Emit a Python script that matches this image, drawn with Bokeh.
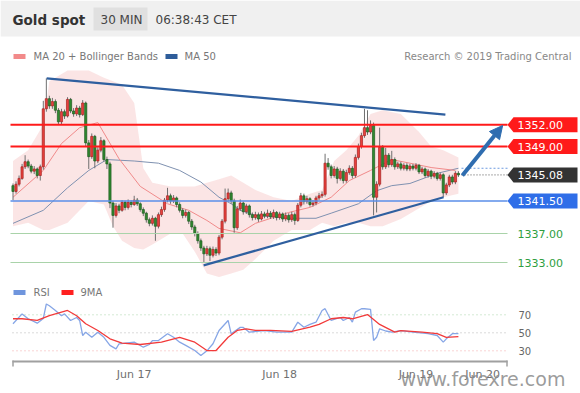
from bokeh.plotting import figure
from bokeh.models import Range1d, Label, Arrow, NormalHead, BoxAnnotation, ColumnDataSource
from bokeh.embed import file_html
from bokeh.resources import INLINE
from bokeh.core.properties import value

# ---------------- data (30-min candles, Gold spot) ----------------
first_open = 1343.6
close = [1342.8,1343.8,1344.6,1346.2,1346.9,1346.3,1345.6,1345.9,1345.0,1346.2,
         1354.2,1355.6,1354.6,1355.2,1354.0,1352.4,1353.8,1353.2,1355.5,1353.9,
         1353.5,1354.3,1353.4,1355.0,1349.5,1347.6,1350.4,1347.0,1348.5,1349.8,
         1347.2,1346.6,1341.2,1339.5,1340.8,1340.2,1341.3,1340.6,1341.3,1341.0,
         1341.6,1341.1,1340.3,1339.8,1338.9,1338.4,1339.1,1338.0,1339.6,1340.3,
         1341.6,1342.2,1341.5,1341.9,1341.0,1340.2,1339.5,1339.9,1338.7,1337.9,
         1337.0,1336.0,1335.0,1334.2,1334.9,1334.0,1334.8,1334.3,1336.5,1338.7,
         1341.8,1342.6,1341.5,1337.8,1340.4,1341.2,1340.0,1340.8,1339.6,1339.2,
         1339.6,1339.0,1339.7,1339.4,1339.8,1339.3,1339.9,1339.2,1339.7,1339.0,
         1339.5,1338.9,1339.6,1338.8,1340.9,1342.2,1341.4,1341.8,1341.0,1341.2,
         1341.9,1342.2,1342.4,1346.7,1346.2,1345.0,1345.9,1344.6,1345.6,1344.3,
         1345.4,1346.0,1345.0,1347.5,1349.0,1350.5,1351.6,1351.0,1351.9,1342.0,
         1343.8,1348.9,1346.2,1347.8,1346.5,1347.2,1346.2,1346.6,1346.0,1346.4,
         1345.9,1346.3,1346.0,1346.4,1345.5,1345.9,1345.0,1345.6,1344.9,1345.3,
         1344.6,1345.1,1342.6,1343.7,1344.8,1344.1,1345.3,1345.08]
high = [1343.9,1344.2,1345.0,1346.6,1347.8,1347.2,1346.6,1346.3,1346.1,1346.5,
        1355.3,1358.4,1356.0,1355.7,1355.5,1354.3,1354.2,1354.1,1355.8,1355.7,
        1354.3,1354.7,1354.6,1355.4,1355.2,1349.9,1350.8,1350.6,1348.9,1350.3,
        1350.0,1347.6,1346.9,1341.5,1341.2,1341.1,1341.6,1341.5,1341.7,1341.6,
        1342.2,1341.9,1341.3,1340.6,1340.0,1339.2,1339.5,1339.3,1339.9,1340.7,
        1341.9,1343.3,1342.5,1342.3,1342.1,1341.3,1340.5,1340.3,1340.1,1339.0,
        1338.2,1337.3,1336.3,1335.3,1335.3,1335.2,1335.2,1335.1,1336.8,1339.0,
        1343.2,1343.2,1342.9,1341.8,1340.8,1341.7,1341.4,1341.1,1341.0,1339.9,
        1340.0,1339.9,1340.1,1340.0,1340.3,1340.1,1340.3,1340.1,1340.0,1339.9,
        1339.9,1339.8,1340.0,1339.9,1341.2,1342.6,1342.5,1342.2,1342.0,1341.6,
        1342.2,1342.6,1342.8,1348.0,1347.4,1346.5,1346.3,1346.2,1346.0,1345.9,
        1345.8,1346.4,1346.3,1347.9,1349.4,1350.9,1354.2,1354.0,1352.6,1352.3,
        1344.2,1351.6,1349.2,1348.8,1348.1,1348.4,1347.5,1346.9,1346.9,1346.7,
        1346.7,1346.6,1346.6,1346.7,1346.6,1346.2,1346.1,1345.9,1345.8,1345.6,
        1345.5,1345.4,1345.3,1344.0,1345.1,1345.1,1345.6,1345.6]
low = [1341.6,1342.5,1343.5,1344.4,1345.9,1346.0,1345.3,1345.2,1344.6,1344.3,
       1345.8,1353.8,1354.2,1354.2,1353.6,1352.0,1352.1,1352.8,1353.0,1353.6,
       1353.1,1353.2,1353.0,1353.2,1349.0,1345.9,1347.3,1346.0,1346.7,1348.2,
       1346.9,1345.9,1340.5,1337.8,1339.2,1339.8,1340.0,1340.2,1340.3,1340.6,
       1340.8,1340.8,1340.0,1339.4,1338.5,1338.0,1338.1,1336.0,1337.7,1339.3,
       1340.0,1341.3,1341.1,1341.2,1340.6,1339.9,1339.1,1339.2,1338.3,1337.5,
       1336.6,1335.6,1334.6,1333.0,1333.9,1333.2,1333.7,1333.9,1334.0,1336.2,
       1338.4,1341.4,1341.1,1337.1,1337.5,1340.1,1339.6,1339.7,1339.2,1338.8,
       1338.9,1338.6,1338.8,1339.1,1339.1,1339.0,1339.0,1338.8,1338.9,1338.6,
       1338.7,1338.5,1338.6,1338.2,1338.6,1340.6,1341.0,1341.1,1340.7,1340.7,
       1340.9,1341.6,1341.9,1342.1,1345.8,1344.6,1344.7,1343.9,1344.3,1343.9,
       1344.0,1345.1,1344.6,1344.7,1347.2,1348.7,1350.2,1350.6,1350.7,1339.5,
       1339.9,1343.5,1345.8,1345.9,1346.1,1346.2,1345.8,1345.9,1345.7,1345.7,
       1345.6,1345.6,1345.7,1345.7,1345.2,1345.2,1344.7,1344.7,1344.5,1344.6,
       1344.3,1344.3,1342.0,1342.3,1343.4,1343.8,1343.8,1344.8]

ma20_idx = [0,10,16,22,28,35,42,51,58,64,68,75,80,91,98,105,111,118,125,131,138,146]
ma20 = [1342.0,1345.7,1349.4,1351.6,1352.3,1347.3,1343.5,1341.1,1340.2,1338.8,1337.7,
        1337.1,1338.4,1339.9,1340.6,1342.0,1344.3,1345.7,1347.2,1346.7,1346.1,1345.7]

band_idx = [0,5,10,12,18,25,30,33,36,40,43,46,52,56,60,64,68,72,76,80,86,92,98,102,
            106,110,114,118,122,128,134,138,142,147]
band_up = [1347.0,1348.5,1352.0,1358.0,1359.5,1359.5,1358.5,1358.0,1357.5,1355.0,
           1346.0,1344.0,1343.5,1343.5,1343.5,1344.0,1344.5,1345.0,1344.0,1343.0,
           1342.0,1341.5,1342.5,1343.0,1347.0,1348.5,1350.5,1353.5,1354.0,1353.5,
           1351.0,1349.0,1348.5,1347.5]
band_lo = [1338.0,1338.5,1337.5,1337.5,1338.5,1341.5,1341.0,1338.0,1336.0,1335.0,
           1334.8,1335.5,1337.0,1337.0,1334.5,1331.5,1331.0,1331.5,1332.0,1333.5,
           1336.0,1337.5,1337.5,1338.5,1338.0,1338.5,1338.5,1338.0,1338.0,1339.0,
           1340.5,1341.5,1342.0,1342.5]

ma50_idx = [0,10,18,25,31,40,48,55,62,68,72,75,80,91,100,105,114,120,125,131,140,147]
ma50 = [1338.4,1340.2,1343.3,1345.7,1347.2,1347.0,1346.7,1345.7,1344.1,1342.0,1341.1,
        1340.2,1339.5,1339.1,1339.1,1339.8,1341.1,1342.9,1343.6,1343.9,1345.3,1346.0]

rsi_idx = [0,3,5,8,10,11,12,14,16,17,19,21,22,23,24,26,28,30,32,34,35,40,41,43,45,46,
           48,51,53,55,57,60,62,64,66,68,71,72,75,76,78,83,87,92,94,96,98,100,102,103,
           105,108,109,111,112,113,115,116,118,119,120,121,123,125,128,132,137,140,
           142,143,145,147]
rsi = [60,71,65.6,60.7,66,82,80,74.8,69,71,63.7,67,63.7,47,50.7,45,50.7,45,36,32.2,
       37.8,39.6,37.8,34,37,41.4,41.4,49,45,39.6,36,30.3,24.8,30,37.8,52.6,63.7,48.9,
       56,56,50.7,52.4,50.7,50.7,61.8,56.2,59.3,61.8,74.8,76.8,63.7,67,63.7,67,61.8,
       73,76.7,76.7,76,41.4,45,54.4,52,50.7,52.4,50.7,49,47,39.6,43.3,49,49]
ma9_idx = [0,3,8,12,18,21,24,28,32,36,42,49,55,60,64,67,71,74,77,80,85,92,98,101,
           105,109,112,117,121,126,128,135,140,143,147]
ma9 = [65.6,65.6,63.7,69,74.8,69,60,52.6,43.3,38.5,37,39.6,45,39.6,30.3,30.3,45,52.6,
       54.4,52.6,52.6,51.5,56.2,59.3,65.6,67,65.6,70.3,59.3,50.7,52.4,50.7,49,45,45.7]

resist_x = [11.1, 142.7]
resist_y = [1358.4, 1353.4]
support_x = [62.9, 142.1]
support_y = [1332.6, 1342.0]
arrow_x = [148.3, 161.6]
arrow_y = [1345.0, 1351.9]

res_levels = [1352.0, 1349.0]
sup_tag_level = 1341.5
sup_levels = [1337.0, 1333.0]
last_price = 1345.08
rsi_levels = [70, 50, 30]
rsi_labels = ["70", "50", "30"]
date_ticks = [40, 88, 133, 155]
date_labels = ["Jun 17", "Jun 18", "Jun 19", "Jun 20"]

# ---------------- layout helpers (pixel -> data) ----------------
X0, DX = 12.5, 3.03
def px(rx):
    return (rx - X0) / DX
def py(ry):
    return 1349 - (ry - 146) / 7.25
def pr(ry):
    return 50 + (332.3 - ry) / 0.9

FONT = "DejaVu Sans"
W, H = 580, 393
p = figure(width=W, height=H, output_backend="svg", toolbar_location=None,
           x_range=Range1d(px(0), px(W)), y_range=Range1d(py(H), py(0)),
           x_axis_location=None, y_axis_location=None, min_border=0,
           outline_line_color=None)
p.extra_y_ranges = {"rsi": Range1d(pr(H), pr(0))}
p.grid.visible = False
p.background_fill_color = "white"
p.border_fill_color = "white"

# header band
p.add_layout(BoxAnnotation(left=px(0), right=px(W), top=py(0), bottom=py(36),
                           fill_color="#f0f0f0", fill_alpha=1, line_color=None, level="underlay"))
p.add_layout(BoxAnnotation(left=px(93), right=px(147), top=py(7), bottom=py(30),
                           fill_color="#e0e0e0", fill_alpha=1, line_color=None, level="underlay"))

def lab(x, y, text, size, color, bold=False, align="left"):
    p.add_layout(Label(x=px(x), y=py(y), text=text, text_font=FONT, text_font_size=size,
                       text_color=color, text_baseline="middle", text_align=align,
                       text_font_style="bold" if bold else "normal"))

lab(12, 19, "Gold spot", "13.5px", "#333333", bold=True)
lab(100, 19, "30 MIN", "12px", "#444444")
lab(155, 19, "06:38:43 CET", "12px", "#444444")
lab(33, 56, "MA 20 + Bollinger Bands", "10px", "#777777")
lab(184, 56, "MA 50", "10px", "#777777")
lab(571, 56, "Research \u00a9 2019 Trading Central", "10px", "#888888", align="right")
lab(33, 292, "RSI", "10px", "#777777")
lab(80, 292, "9MA", "10px", "#777777")

# legend swatches
p.quad(left=[px(13), px(165)], right=[px(25), px(177)], top=[py(53.5), py(53.5)],
       bottom=[py(58.5), py(58.5)], fill_color=["#f28a8a", "#2e5d9a"], line_color=None)
p.quad(left=[px(13), px(61)], right=[px(25), px(73)], top=[py(289.5), py(289.5)],
       bottom=[py(294.5), py(294.5)], fill_color=["#6f95dd", "#ff2020"], line_color=None)

# Bollinger band + MAs
p.varea(x=band_idx, y1=band_lo, y2=band_up, fill_color="#f7cccc", fill_alpha=0.5)
p.line(ma50_idx, ma50, line_color="#7f91b0", line_width=1)
p.line(ma20_idx, ma20, line_color="#f08a8a", line_width=1)

# candles
opens = [first_open] + close[:-1]
idx = list(range(len(close)))
bull = [c >= o for o, c in zip(opens, close)]
src = ColumnDataSource(dict(
    x=idx, h=high, l=low,
    top=[max(o, c) for o, c in zip(opens, close)],
    bot=[min(o, c) for o, c in zip(opens, close)],
    fill=["#e8413c" if b else "#2f8a2f" for b in bull],
    edge=["#a52222" if b else "#1f5a1f" for b in bull]))
p.segment(x0="x", y0="h", x1="x", y1="l", line_color="#6f6f6f", line_width=1, source=src)
p.vbar(x="x", width=0.72, top="top", bottom="bot", fill_color="fill", line_color="edge",
       line_width=0.7, source=src)

# horizontal levels
for lv in res_levels:
    p.segment(x0=[px(10)], y0=[lv], x1=[px(507)], y1=[lv], line_color="#ff1a1a", line_width=2)
p.segment(x0=[px(10)], y0=[sup_tag_level], x1=[px(507)], y1=[sup_tag_level],
          line_color="#5a8ee8", line_width=1.5)
for lv in sup_levels:
    p.segment(x0=[px(10)], y0=[lv], x1=[px(507)], y1=[lv], line_color="#a9d3a9", line_width=1)
p.segment(x0=[px(461)], y0=[last_price], x1=[px(507)], y1=[last_price],
          line_color="#555555", line_width=1, line_dash="1 2")
p.segment(x0=[px(461)], y0=[ma50[-1]], x1=[px(507)], y1=[ma50[-1]],
          line_color="#6d9be0", line_width=1, line_dash="2 2")

# trend lines and arrow
p.line(resist_x, resist_y, line_color="#2f5f9f", line_width=2.2)
p.line(support_x, support_y, line_color="#2f5f9f", line_width=2.2)
p.add_layout(Arrow(end=NormalHead(size=13, fill_color="#2f6db0", line_color="#2f6db0"),
                   x_start=arrow_x[0], y_start=arrow_y[0], x_end=arrow_x[1], y_end=arrow_y[1],
                   line_color="#2f6db0", line_width=4))

# price tags
hh = 7.5 / 7.25
tags = [(res_levels[0], "#ff1a1a"), (res_levels[1], "#ff1a1a"),
        (last_price, "#333333"), (sup_tag_level, "#2f6ee8")]
p.patches(xs=[[px(507), px(513), px(577), px(577), px(513)] for _ in tags],
          ys=[[v, v + hh, v + hh, v - hh, v - hh] for v, _ in tags],
          fill_color=[c for _, c in tags], line_color=None)
p.text(x=[px(517)] * len(tags), y=[v for v, _ in tags], text=["%.2f" % v for v, _ in tags],
       text_font=value(FONT), text_font_size="11px", text_color="white", text_baseline="middle")
p.text(x=[px(517)] * len(sup_levels), y=sup_levels, text=["%.2f" % v for v in sup_levels],
       text_font=value(FONT), text_font_size="11px", text_color="#2e9e3e", text_baseline="middle")

# RSI panel
for lv, col in zip(rsi_levels, ["#a8d5a8", "#b5b5b5", "#f2a8a8"]):
    p.segment(x0=[px(12)], y0=[lv], x1=[px(507)], y1=[lv], line_color=col, line_width=1,
              line_dash="1 3", y_range_name="rsi")
p.line(rsi_idx, rsi, line_color="#86a6e6", line_width=1.3, y_range_name="rsi")
p.line(ma9_idx, ma9, line_color="#f23a3a", line_width=1.3, y_range_name="rsi")
p.text(x=[px(518)] * 3, y=rsi_levels, text=rsi_labels, y_range_name="rsi",
       text_font=value(FONT), text_font_size="10px", text_color="#666666", text_baseline="middle")

# time axis (drawn inside the canvas)
p.segment(x0=[px(12)], y0=[py(361)], x1=[px(507)], y1=[py(361)], line_color="#a0a0a0", line_width=2)
p.segment(x0=[px(12.5), px(506.5)], y0=[py(360), py(360)], x1=[px(12.5), px(506.5)],
          y1=[py(366), py(366)], line_color="#a0a0a0", line_width=1.5)
p.text(x=date_ticks, y=[py(374)] * len(date_ticks), text=date_labels,
       text_font=value(FONT), text_font_size="11px", text_color="#707070",
       text_align="center", text_baseline="middle")

# watermark
p.text(x=[px(400)], y=[py(378)], text=["www.forexre.com"], text_font=value(FONT),
       text_font_size="19px", text_color="#8a8a8a", text_alpha=0.85,
       text_align="left", text_baseline="middle")

open("out.html", "w").write(file_html(p, INLINE))
